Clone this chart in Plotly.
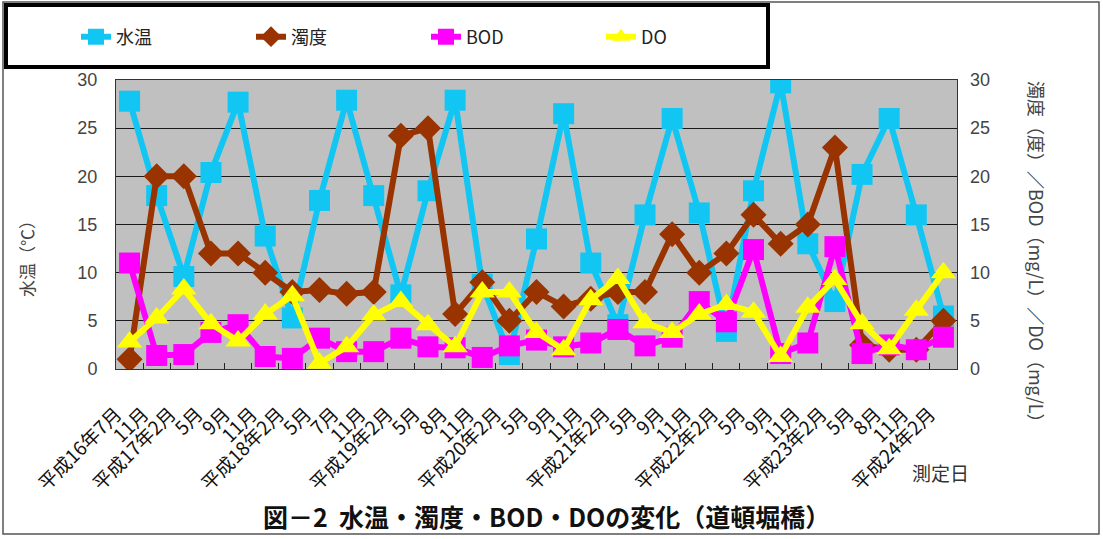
import plotly.graph_objects as go

# Sampling dates (x-axis tick labels)
dates = ["平成16年7月", "11月", "平成17年2月", "5月", "9月", "11月", "平成18年2月", "5月",
         "7月", "11月", "平成19年2月", "5月", "8月", "11月", "平成20年2月", "5月", "9月",
         "11月", "平成21年2月", "5月", "9月", "11月", "平成22年2月", "5月", "9月", "11月",
         "平成23年2月", "5月", "8月", "11月", "平成24年2月"]

# Water temperature (℃), left axis
water_temp = [27.8, 18.0, 9.6, 20.4, 27.7, 13.8, 5.3, 17.5, 27.9, 18.0, 7.7, 18.5,
              27.9, 8.8, 1.5, 13.5, 26.5, 11.0, 4.6, 16.0, 26.0, 16.2, 3.9, 18.5,
              29.7, 13.0, 7.0, 20.2, 26.0, 16.0, 5.5]
# Turbidity (度), right axis
turbidity = [1.0, 20.0, 20.0, 12.0, 12.0, 10.0, 8.0, 8.2, 7.8, 8.0, 24.2, 25.0,
             5.7, 9.0, 5.0, 8.0, 6.5, 7.3, 8.0, 8.0, 14.0, 10.0, 12.0, 16.0,
             13.0, 15.0, 23.0, 2.5, 2.0, 2.0, 5.0]
# BOD (mg/L), right axis
bod = [11.0, 1.4, 1.5, 3.8, 4.6, 1.3, 1.1, 3.2, 1.8, 1.8, 3.2, 2.3, 2.2, 1.2,
       2.4, 3.0, 2.3, 2.7, 4.1, 2.4, 3.3, 7.0, 4.9, 12.4, 1.6, 2.7, 12.7, 1.6,
       2.5, 2.0, 3.3]
# DO (mg/L), right axis
do = [2.8, 5.3, 8.3, 4.7, 2.9, 5.7, 7.6, 0.6, 2.3, 5.6, 7.0, 4.6, 2.3, 8.0,
      8.0, 3.8, 2.0, 7.2, 9.4, 4.8, 3.8, 5.7, 6.7, 5.9, 1.3, 6.4, 9.3, 4.7,
      2.1, 6.1, 10.0]

y_ticks = [0, 5, 10, 15, 20, 25, 30]

x = list(range(len(dates)))
FONT = "Liberation Sans, Noto Sans CJK JP, sans-serif"
JP = "Noto Sans CJK JP, sans-serif"

# a trailing ideographic space sets the rotated labels slightly down-left of each tick
tick_text = [d + "\u3000" for d in dates]

fig = go.Figure()
fig.add_trace(go.Scatter(x=x, y=water_temp, name="水温", mode="lines+markers",
                         line=dict(color="#12C6F4", width=6),
                         marker=dict(symbol="square", size=21, color="#12C6F4")))
fig.add_trace(go.Scatter(x=x, y=turbidity, name="濁度", mode="lines+markers", yaxis="y2",
                         line=dict(color="#993300", width=6),
                         marker=dict(symbol="diamond", size=20, color="#993300")))
fig.add_trace(go.Scatter(x=x, y=bod, name="BOD", mode="lines+markers", yaxis="y2",
                         line=dict(color="#FF00FF", width=6),
                         marker=dict(symbol="square", size=21, color="#FF00FF")))
fig.add_trace(go.Scatter(x=x, y=do, name="DO", mode="lines+markers", yaxis="y2",
                         line=dict(color="#FFFF00", width=6),
                         marker=dict(symbol="triangle-up", size=22, color="#FFFF00")))

# Plot-area geometry in pixels
W, H = 1103, 539
L, R, T, B = 116, 957, 80, 369
pw, ph = R - L, B - T


def px(v):
    return (v - L) / pw


def py(v):
    return (B - v) / ph


fig.update_layout(
    width=W, height=H,
    margin=dict(l=L, r=W - R, t=T, b=H - B, autoexpand=False),
    paper_bgcolor="white",
    plot_bgcolor="#C0C0C0",
    font=dict(family=FONT, size=17, color="#404040"),
    showlegend=True,
    legend=dict(orientation="h", x=px(76), y=py(37), xanchor="left", yanchor="middle",
                entrywidth=130, entrywidthmode="pixels", itemwidth=30,
                font=dict(family=JP, size=18, color="#222222"),
                bgcolor="rgba(0,0,0,0)", traceorder="normal"),
    xaxis=dict(range=[-0.5, len(dates) - 0.5], tickvals=x, ticktext=tick_text,
               tickangle=-45, ticks="", showgrid=False, zeroline=False,
               ticklabelstandoff=12,
               tickfont=dict(family=JP, size=19, color="#111111"),
               showline=True, linecolor="#333333", linewidth=1, mirror=True),
    xaxis2=dict(overlaying="x", anchor="y", side="bottom", matches="x",
                tickvals=[i - 0.5 for i in range(len(dates) + 1)],
                showticklabels=False, ticks="inside", ticklen=6,
                tickcolor="#222222", showgrid=False, zeroline=False),
    yaxis=dict(range=[0, 30], tickvals=y_ticks, showgrid=True, gridcolor="#1a1a1a",
               gridwidth=1, zeroline=False, ticks="", ticklabelstandoff=14,
               showline=True, linecolor="#333333", linewidth=1, mirror=True,
               tickfont=dict(size=18, color="#444444")),
    yaxis2=dict(range=[0, 30], tickvals=y_ticks, overlaying="y", side="right",
                showgrid=False, zeroline=False, ticks="", ticklabelstandoff=12,
                tickfont=dict(size=18, color="#444444")),
)

# Boundary tick marks axis needs a trace to show
fig.add_trace(go.Scatter(x=[0], y=[None], xaxis="x2", showlegend=False,
                         hoverinfo="skip"))

annotations = [
    dict(text="水温（℃）", x=px(26), y=py(255), textangle=-90,
         font=dict(family=JP, size=17, color="#444444")),
    dict(text="濁度（度）／BOD（mg/L）／DO（mg/L）", x=px(1037), y=py(256), textangle=90,
         font=dict(family=JP, size=18, color="#444444")),
    dict(text="測定日", x=px(940), y=py(472),
         font=dict(family=JP, size=19, color="#333333")),
    dict(text="<b>図－2  水温・濁度・BOD・DOの変化（道頓堀橋）</b>", x=px(546), y=py(516),
         font=dict(family=JP, size=25, color="#111111")),
]
for a in annotations:
    a.update(xref="paper", yref="paper", showarrow=False, xanchor="center", yanchor="middle")
fig.update_layout(annotations=annotations)

fig.update_layout(shapes=[
    # outer frame
    dict(type="rect", xref="paper", yref="paper", x0=px(3), x1=px(1099), y0=py(534), y1=py(2),
         line=dict(color="#555555", width=1.5), layer="below"),
    # legend box
    dict(type="rect", xref="paper", yref="paper", x0=px(6), x1=px(768), y0=py(67), y1=py(5),
         line=dict(color="black", width=4), fillcolor="white", layer="below"),
])

fig.write_html("out.html")
